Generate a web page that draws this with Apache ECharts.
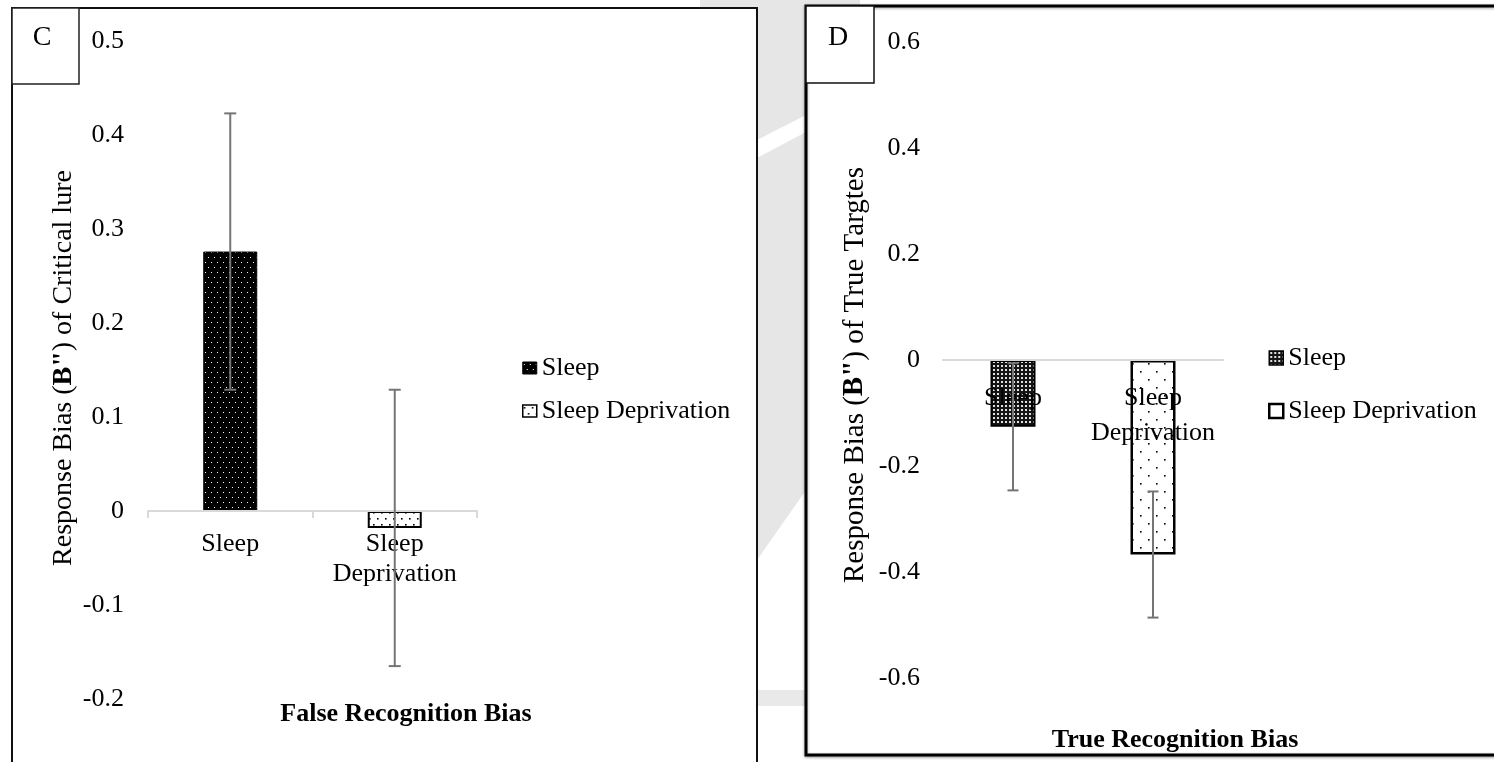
<!DOCTYPE html>
<html>
<head>
<meta charset="utf-8">
<script src="https://cdn.jsdelivr.net/npm/echarts@6/dist/echarts.min.js"></script>
<style>
  html, body { margin: 0; padding: 0; background: #fff; }
  #chart { width: 1494px; height: 762px; }
</style>
</head>
<body>
<div id="chart"></div>
<script>
// ---- data ----
const categories = ['Sleep', 'Sleep\nDeprivation'];
const groupNames = ['Sleep', 'Sleep Deprivation'];

// Panel C: response bias of critical lures
const falseBiasMean = [0.276, -0.018];
const falseBiasError = [0.147, 0.147];
const falseAxisRange = [-0.2, 0.5];
const falseAxisStep = 0.1;

// Panel D: response bias of true targets
const trueBiasMean = [-0.126, -0.367];
const trueBiasError = [0.120, 0.119];
const trueAxisRange = [-0.6, 0.6];
const trueAxisStep = 0.2;

// ---- layout ----
const gridC = { left: 148, top: 41, width: 329, height: 658 };
const gridD = { left: 943, top: 42, width: 280, height: 636 };
// shift the category axis up so it sits on the zero line
const zeroOffset = (g, range) => -g.height * (0 - range[0]) / (range[1] - range[0]);

// ---- styling helpers ----
const SERIF = "'Liberation Serif', 'Times New Roman', serif";

function dotPattern(w, h, bg, fg, dots, size) {
  const c = document.createElement('canvas');
  c.width = w; c.height = h;
  const g = c.getContext('2d');
  g.fillStyle = bg; g.fillRect(0, 0, w, h);
  g.fillStyle = fg;
  dots.forEach(([x, y]) => g.fillRect(x, y, size, size));
  return { image: c, repeat: 'repeat' };
}

const patSleepC = dotPattern(6, 10, '#000', '#fff', [[1, 2], [4, 7]], 1);
const patDeprC = dotPattern(8, 12, '#fff', '#000', [[1, 2], [5, 8]], 1.6);
const patSleepD = dotPattern(4, 4, '#151515', '#e0e0e0', [[1, 1]], 2);
const patDeprD = dotPattern(16, 16, '#fff', '#000', [[4, 3], [12, 11]], 1.6);

const fmtTick = v => {
  const r = Math.round(v * 10) / 10;
  return r === 0 ? '0' : String(r);
};

function errorSeries(axisIndex, means, errs, cap) {
  return {
    type: 'custom',
    xAxisIndex: axisIndex,
    yAxisIndex: axisIndex,
    z: 6,
    silent: true,
    data: means.map((m, i) => [i, m - errs[i], m + errs[i]]),
    encode: { x: 0, y: [1, 2] },
    renderItem: (params, api) => {
      const lo = api.coord([api.value(0), api.value(1)]);
      const hi = api.coord([api.value(0), api.value(2)]);
      const st = { stroke: '#757575', lineWidth: 2 };
      return {
        type: 'group',
        children: [
          { type: 'line', shape: { x1: lo[0], y1: lo[1], x2: hi[0], y2: hi[1] }, style: st },
          { type: 'line', shape: { x1: lo[0] - cap, y1: lo[1], x2: lo[0] + cap, y2: lo[1] }, style: st },
          { type: 'line', shape: { x1: hi[0] - cap, y1: hi[1], x2: hi[0] + cap, y2: hi[1] }, style: st }
        ]
      };
    }
  };
}

function barSeries(axisIndex, name, value, idx, color, borderWidth, width) {
  const data = categories.map((_, i) => (i === idx ? value : '-'));
  return {
    type: 'bar',
    name: name,
    xAxisIndex: axisIndex,
    yAxisIndex: axisIndex,
    stack: 'panel' + axisIndex,
    barWidth: width,
    data: data,
    itemStyle: { color: color, borderColor: '#000', borderWidth: borderWidth }
  };
}

const chart = echarts.init(document.getElementById('chart'), null, { renderer: 'canvas' });

const option = {
  backgroundColor: '#fff',
  animation: false,
  grid: [gridC, gridD],
  xAxis: [
    {
      gridIndex: 0, type: 'category', data: categories, z: 3,
      position: 'bottom', offset: zeroOffset(gridC, falseAxisRange),
      axisLine: { onZero: false, lineStyle: { color: '#d9d9d9', width: 2 } },
      axisTick: { show: true, length: 7, lineStyle: { color: '#d9d9d9', width: 2 } },
      axisLabel: { interval: 0, fontFamily: SERIF, fontSize: 26, color: '#000', lineHeight: 30, margin: 18 }
    },
    {
      gridIndex: 1, type: 'category', data: categories, z: 3,
      position: 'bottom', offset: zeroOffset(gridD, trueAxisRange),
      axisLine: { onZero: false, lineStyle: { color: '#d9d9d9', width: 2 } },
      axisTick: { show: false },
      axisLabel: { interval: 0, fontFamily: SERIF, fontSize: 26, color: '#000', lineHeight: 35, margin: 21 }
    }
  ],
  yAxis: [
    {
      gridIndex: 0, type: 'value',
      min: falseAxisRange[0], max: falseAxisRange[1], interval: falseAxisStep,
      axisLine: { show: false }, axisTick: { show: false }, splitLine: { show: false },
      axisLabel: { fontFamily: SERIF, fontSize: 26, color: '#000', margin: 24, formatter: fmtTick }
    },
    {
      gridIndex: 1, type: 'value',
      min: trueAxisRange[0], max: trueAxisRange[1], interval: trueAxisStep,
      axisLine: { show: false }, axisTick: { show: false }, splitLine: { show: false },
      axisLabel: { fontFamily: SERIF, fontSize: 26, color: '#000', margin: 23, formatter: fmtTick }
    }
  ],
  legend: [
    {
      orient: 'vertical', left: 517, top: 350, icon: 'rect',
      itemWidth: 14, itemHeight: 12, itemGap: 17, selectedMode: false,
      textStyle: { fontFamily: SERIF, fontSize: 26, color: '#000', lineHeight: 26 },
      data: [
        { name: groupNames[0], itemStyle: { color: patSleepC, borderColor: '#000', borderWidth: 1 } },
        { name: groupNames[1], itemStyle: { color: patDeprC, borderColor: '#000', borderWidth: 1.5 } }
      ]
    },
    {
      orient: 'vertical', left: 1263, top: 340, icon: 'rect',
      itemWidth: 14, itemHeight: 14, itemGap: 27, selectedMode: false,
      textStyle: { fontFamily: SERIF, fontSize: 26, color: '#000', lineHeight: 26 },
      data: [
        { name: groupNames[0], itemStyle: { color: patSleepD, borderColor: '#000', borderWidth: 1.5 } },
        { name: groupNames[1], itemStyle: { color: '#fff', borderColor: '#000', borderWidth: 2.5 } }
      ]
    }
  ],
  series: [
    barSeries(0, groupNames[0], falseBiasMean[0], 0, patSleepC, 1, 54),
    barSeries(0, groupNames[1], falseBiasMean[1], 1, patDeprC, 2, 54),
    errorSeries(0, falseBiasMean, falseBiasError, 6),
    barSeries(1, groupNames[0], trueBiasMean[0], 0, patSleepD, 2, 45),
    barSeries(1, groupNames[1], trueBiasMean[1], 1, patDeprD, 2.5, 45),
    errorSeries(1, trueBiasMean, trueBiasError, 5.5)
  ],
  graphic: [
    // faint background logo visible between the panels
    { type: 'polygon', z: -20, silent: true,
      shape: { points: [[700, 0], [860, 0], [860, 112], [806, 115], [757, 140], [700, 140]] },
      style: { fill: '#e6e6e6' } },
    { type: 'polygon', z: -20, silent: true,
      shape: { points: [[700, 162], [757, 158], [806, 132], [860, 128], [860, 470], [806, 490], [757, 560], [700, 560]] },
      style: { fill: '#e6e6e6' } },
    { type: 'rect', z: -20, silent: true,
      shape: { x: 700, y: 690, width: 160, height: 16 },
      style: { fill: '#e9e9e9' } },

    // panel C frame
    { type: 'rect', z: -10, silent: true,
      shape: { x: 12, y: 8, width: 745, height: 780 },
      style: { fill: '#fff', stroke: '#111', lineWidth: 2 } },
    { type: 'rect', z: -9, silent: true,
      shape: { x: 12, y: 8, width: 67, height: 76 },
      style: { fill: '#fff', stroke: '#222', lineWidth: 1.5 } },
    { type: 'text', z: 10, silent: true, x: 42, y: 38,
      style: { text: 'C', font: '28px ' + SERIF, fill: '#000', align: 'center', verticalAlign: 'middle' } },

    // panel D frame
    { type: 'rect', z: -10, silent: true,
      shape: { x: 806, y: 6, width: 720, height: 749 },
      style: { fill: '#fff', stroke: '#000', lineWidth: 3, shadowBlur: 3, shadowColor: 'rgba(0,0,0,0.35)', shadowOffsetY: 1 } },
    { type: 'rect', z: -9, silent: true,
      shape: { x: 806, y: 6, width: 68, height: 77 },
      style: { fill: '#fff', stroke: '#111', lineWidth: 1.5 } },
    { type: 'text', z: 10, silent: true, x: 838, y: 38,
      style: { text: 'D', font: '28px ' + SERIF, fill: '#000', align: 'center', verticalAlign: 'middle' } },

    // axis titles
    { type: 'text', z: 10, silent: true, x: 64, y: 368, rotation: Math.PI / 2,
      style: {
        text: '{n|Response Bias (}{b|B"}{n|) of Critical lure}',
        align: 'center', verticalAlign: 'middle',
        rich: {
          n: { fontFamily: SERIF, fontSize: 28, color: '#000' },
          b: { fontFamily: SERIF, fontSize: 28, fontWeight: 'bold', color: '#000' }
        }
      } },
    { type: 'text', z: 10, silent: true, x: 855, y: 375, rotation: Math.PI / 2,
      style: {
        text: '{n|Response Bias (}{b|B"}{n|) of True Targtes}',
        align: 'center', verticalAlign: 'middle',
        rich: {
          n: { fontFamily: SERIF, fontSize: 29, color: '#000' },
          b: { fontFamily: SERIF, fontSize: 29, fontWeight: 'bold', color: '#000' }
        }
      } },
    { type: 'text', z: 10, silent: true, x: 406, y: 714,
      style: { text: 'False Recognition Bias', font: 'bold 26px ' + SERIF, fill: '#000', align: 'center', verticalAlign: 'middle' } },
    { type: 'text', z: 10, silent: true, x: 1175, y: 740,
      style: { text: 'True Recognition Bias', font: 'bold 26px ' + SERIF, fill: '#000', align: 'center', verticalAlign: 'middle' } }
  ]
};

chart.setOption(option);
</script>
</body>
</html>
